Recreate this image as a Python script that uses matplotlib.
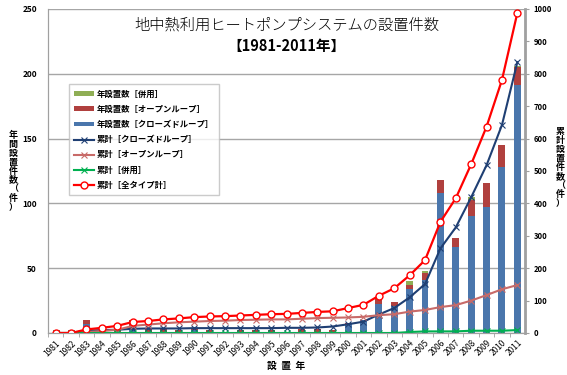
import numpy as np
import matplotlib
matplotlib.use('Agg')
import matplotlib.pyplot as plt

plt.rcParams['font.family'] = ['Noto Sans CJK JP', 'DejaVu Sans']

# data
years = [str(y) for y in range(1981, 2012)]

closed_annual = [0, 0, 7, 1, 1, 3, 1, 1, 1, 2, 1, 0, 1, 1, 1, 0, 1, 1, 1, 7, 10,
                 22, 21, 34, 41, 108, 66, 90, 97, 128, 191]
open_annual = [0, 0, 3, 1, 1, 7, 2, 2, 1, 1, 1, 1, 1, 1, 1, 1, 2, 2, 1, 1, 0,
               6, 3, 3, 5, 10, 7, 13, 19, 17, 14]
combo_annual = [0, 0, 0, 0, 0, 0, 0, 0, 0, 0, 0, 0, 0, 0, 0, 0, 0, 0, 0, 0, 0,
                0, 0, 3, 2, 0, 0, 2, 0, 0, 1]

closed_cum = [0, 0, 7, 9, 10, 13, 14, 14, 14, 15, 15, 15, 15, 15, 15, 16, 16,
              17, 20, 27, 35, 57, 77, 110, 151, 261, 326, 419, 518, 642, 836]
open_cum = [0, 0, 3, 6, 10, 22, 26, 30, 33, 35, 37, 38, 40, 41, 42, 42, 44,
            46, 47, 48, 50, 55, 58, 66, 71, 80, 86, 100, 117, 135, 148]
combo_cum = [0, 0, 0, 0, 0, 0, 0, 0, 0, 0, 0, 0, 0, 0, 0, 0, 0, 0, 0, 0, 0,
             0, 0, 3, 5, 5, 5, 7, 7, 7, 9]
total_cum = [0, 0, 11, 16, 22, 34, 37, 42, 45, 49, 51, 52, 54, 56, 58, 59, 62,
             65, 67, 77, 87, 115, 138, 178, 225, 343, 416, 521, 637, 781, 988]

x = np.arange(len(years))

fig = plt.figure(figsize=(5.67, 3.75), dpi=100)
ax = fig.add_axes([0.0847, 0.112, 0.8413, 0.864])
ax2 = ax.twinx()

w = 0.45
b1 = ax.bar(x, closed_annual, w, color='#4A76AC', label='年設置数［クローズドループ］', zorder=2)
b2 = ax.bar(x, open_annual, w, bottom=closed_annual, color='#B0403E',
            label='年設置数［オープンループ］', zorder=2)
bot3 = np.array(closed_annual) + np.array(open_annual)
b3 = ax.bar(x, combo_annual, w, bottom=bot3, color='#8FAE55',
            label='年設置数［併用］', zorder=2)

l1, = ax2.plot(x, closed_cum, color='#1F3F73', lw=1.5, marker='x', ms=4,
               mew=0.8, label='累計［クローズドループ］')
l2, = ax2.plot(x, open_cum, color='#C86A68', lw=1.5, marker='x', ms=4,
               mew=0.8, label='累計［オープンループ］')
l3, = ax2.plot(x, combo_cum, color='#00B050', lw=1.5, marker='x', ms=4,
               mew=0.8, label='累計［併用］')
l4, = ax2.plot(x, total_cum, color='#FF0000', lw=1.6, marker='o', ms=5,
               mfc='white', mec='#FF0000', mew=1.0, label='累計［全タイプ計］')

ax.set_xlim(-0.5, len(years) - 0.5)
ax.set_ylim(0, 250)
ax2.set_ylim(0, 1000)
ax.set_yticks(range(0, 251, 50))
ax2.set_yticks(range(0, 1001, 100))
ax.yaxis.grid(True, color='#A6A6A6', lw=1.0, zorder=0)
ax.set_axisbelow(True)

ax.set_xticks(x)
ax.set_xticklabels(years, rotation=45, ha='right', rotation_mode='anchor',
                   fontsize=6)
ax.set_xticks(x - 0.5, minor=True)
ax.tick_params(axis='x', which='major', length=0, pad=4)
ax.tick_params(axis='x', which='minor', length=3, color='#A0A0A0')

for a in (ax, ax2):
    for s in a.spines.values():
        s.set_color('#A0A0A0')
    a.spines['top'].set_visible(False)
ax2.spines['right'].set_linewidth(2)
ax.tick_params(axis='y', length=0, labelsize=6, pad=8)
ax2.tick_params(axis='y', length=3, color='#A0A0A0', labelsize=5.5, pad=3)
for t in ax.get_yticklabels() + ax2.get_yticklabels():
    t.set_fontweight('bold')

ax.set_ylabel('年\n間\n設\n置\n件\n数\n（\n件\n）', rotation=0, fontsize=6.5,
              fontweight='bold', linespacing=1.0, va='center', ha='center')
ax2.set_ylabel('累\n計\n設\n置\n件\n数\n（\n件\n）', rotation=0, fontsize=6.5,
               fontweight='bold', linespacing=1.0, va='center', ha='center')
ax.yaxis.set_label_coords(-0.073, 0.50)
ax2.yaxis.set_label_coords(1.074, 0.51)
ax.set_xlabel('設  置  年', fontsize=7, fontweight='bold', labelpad=2)

ax.text(0.5, 0.95, '地中熱利用ヒートポンプシステムの設置件数', transform=ax.transAxes,
        ha='center', va='center', fontsize=11, fontweight='light')
ax.text(0.5, 0.885, '【1981-2011年】', transform=ax.transAxes,
        ha='center', va='center', fontsize=10.5, fontweight='bold')

handles = [b3, b2, b1, l1, l2, l3, l4]
leg = ax2.legend(handles=handles, loc='upper left',
                 bbox_to_anchor=(0.035, 0.78), fontsize=6, frameon=True,
                 fancybox=False, edgecolor='#BFBFBF', handlelength=2.4,
                 handleheight=0.5, labelspacing=0.75, borderpad=0.6,
                 handletextpad=0.3)
leg.get_frame().set_linewidth(1.0)
for t in leg.get_texts():
    t.set_fontweight('bold')

fig.savefig('out.png', dpi=100)
